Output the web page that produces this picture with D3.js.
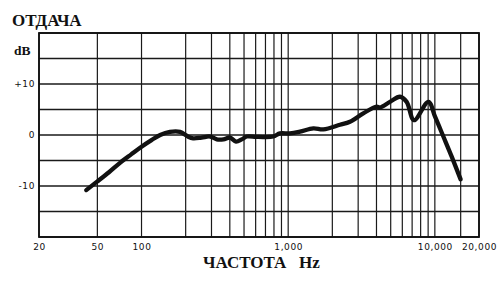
<!DOCTYPE html>
<html>
<head>
<meta charset="utf-8">
<script src="https://cdn.jsdelivr.net/npm/d3@7/dist/d3.min.js"></script>
<style>
    html, body { margin: 0; padding: 0; background: #fff; }
    svg { display: block; }
</style>
</head>
<body>
<svg class="d3" width="500" height="281"></svg>
<script>
// response curve (Hz, dB)
var freqs = [42, 49.5, 60, 71, 85, 100, 117, 134, 156, 183, 207, 225, 257, 293, 326, 362, 401, 441, 482, 521,
    600, 676, 791, 879, 1028, 1205, 1484, 1737, 2255, 2637, 3250, 4010, 4225, 4945, 5783, 6423, 7210, 9036,
    10030, 11430, 13030, 14990];
var dbs = [-10.8, -9.2, -7.3, -5.5, -3.8, -2.3, -1.0, 0.0, 0.6, 0.6, -0.3, -0.65, -0.5, -0.3, -0.85, -0.85, -0.5, -1.3, -0.85, -0.3,
    -0.35, -0.4, -0.3, 0.3, 0.3, 0.65, 1.3, 1.1, 2.0, 2.6, 4.25, 5.55, 5.4, 6.5, 7.5, 6.5, 2.9, 6.5,
    3.6, -0.3, -4.25, -8.7];

// grid and tick labels
var gridFreqs = [20, 50, 100, 200, 300, 400, 500, 600, 700, 800, 900, 1000,
    2000, 3000, 4000, 5000, 6000, 7000, 8000, 9000, 10000, 15000, 20000];
var xTickValues = [20, 50, 100, 1000, 10000, 20000];
var xTickLabels = ['20', '50', '100', '1,000', '10,000', '20,000'];
var gridDbs = [-20, -15, -10, -5, 0, 5, 10, 15, 20];
var yTickValues = [10, 0, -10];
var yTickLabels = ['+10', '0', '-10'];

var svg = d3.select('svg.d3');
var plot = { left: 39, right: 479, top: 33, bottom: 237 };

var x = d3.scaleLog().domain([20, 20000]).range([plot.left, plot.right]);
var y = d3.scaleLinear().domain([-20, 20]).range([plot.bottom, plot.top]);

function drawGrid() {
    svg.append('g')
        .selectAll('line')
        .data(gridFreqs)
        .enter()
        .append('line')
        .attr('x1', function (d) { return x(d); })
        .attr('x2', function (d) { return x(d); })
        .attr('y1', plot.top)
        .attr('y2', plot.bottom)
        .attr('stroke', '#1a1a1a')
        .attr('stroke-width', 1.2);

    svg.append('g')
        .selectAll('line')
        .data(gridDbs)
        .enter()
        .append('line')
        .attr('x1', plot.left)
        .attr('x2', plot.right)
        .attr('y1', function (d) { return y(d); })
        .attr('y2', function (d) { return y(d); })
        .attr('stroke', '#1a1a1a')
        .attr('stroke-width', 1.4);

    svg.append('rect')
        .attr('x', plot.left)
        .attr('y', plot.top)
        .attr('width', plot.right - plot.left)
        .attr('height', plot.bottom - plot.top)
        .attr('fill', 'none')
        .attr('stroke', '#111')
        .attr('stroke-width', 1.8);
}

function drawAxes() {
    var xAxis = d3.axisBottom(x)
        .tickValues(xTickValues)
        .tickFormat(function (d, i) { return xTickLabels[i]; })
        .tickSize(0)
        .tickPadding(7);
    var gx = svg.append('g')
        .attr('transform', 'translate(0,' + plot.bottom + ')')
        .call(xAxis);

    var yAxis = d3.axisLeft(y)
        .tickValues(yTickValues)
        .tickFormat(function (d, i) { return yTickLabels[i]; })
        .tickSize(0)
        .tickPadding(4);
    var gy = svg.append('g')
        .attr('transform', 'translate(' + plot.left + ',0)')
        .call(yAxis);

    [gx, gy].forEach(function (g) {
        g.select('.domain').remove();
        g.selectAll('text')
            .attr('font-family', 'DejaVu Sans, sans-serif')
            .attr('font-size', '9px')
            .attr('letter-spacing', '0.6px')
            .attr('fill', '#111');
    });
}

function drawCurve() {
    var pts = freqs.map(function (f, i) { return [f, dbs[i]]; });
    var line = d3.line()
        .x(function (d) { return x(d[0]); })
        .y(function (d) { return y(d[1]); })
        .curve(d3.curveCatmullRom.alpha(0.5));
    svg.append('path')
        .datum(pts)
        .attr('d', line)
        .attr('fill', 'none')
        .attr('stroke', '#111')
        .attr('stroke-width', 4.3)
        .attr('stroke-linecap', 'round')
        .attr('stroke-linejoin', 'round');
}

function drawLabels() {
    var serif = 'Liberation Serif, DejaVu Serif, serif';
    svg.append('text')
        .attr('x', 12)
        .attr('y', 26)
        .attr('font-family', serif)
        .attr('font-weight', 'bold')
        .attr('font-size', '17px')
        .attr('fill', '#111')
        .text('ОТДАЧА');
    svg.append('text')
        .attr('x', 14)
        .attr('y', 54.5)
        .attr('font-family', serif)
        .attr('font-weight', 'bold')
        .attr('font-size', '13.5px')
        .attr('fill', '#111')
        .text('dB');
    svg.append('text')
        .attr('x', 203)
        .attr('y', 268)
        .attr('font-family', serif)
        .attr('font-weight', 'bold')
        .attr('font-size', '17px')
        .attr('fill', '#111')
        .style('white-space', 'pre')
        .text('ЧАСТОТА   Hz');
}

drawGrid();
drawCurve();
drawAxes();
drawLabels();
</script>
</body>
</html>
